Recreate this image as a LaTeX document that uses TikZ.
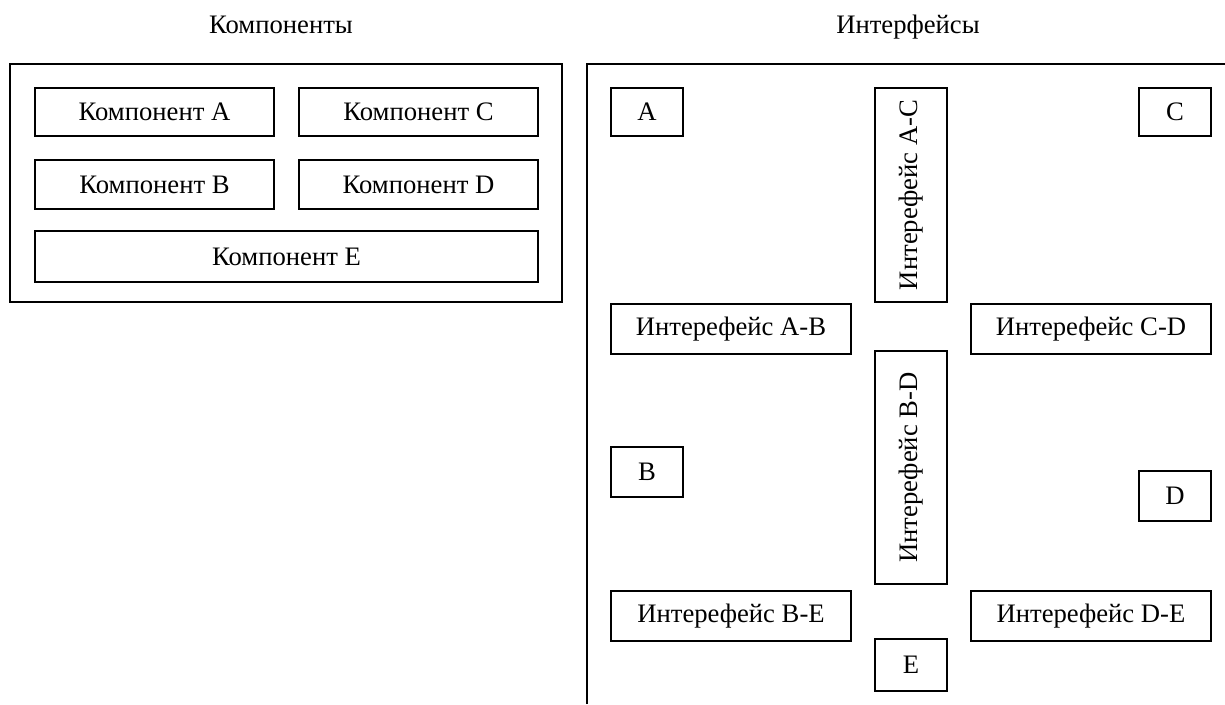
\documentclass[tikz,border=0pt]{standalone}
\usepackage{fontspec}
\setmainfont{Liberation Serif}
\begin{document}
\begin{tikzpicture}[x=0.75pt, y=-0.75pt,
  frame/.style={draw, line width=1.1pt},
  box/.style={draw, line width=1.1pt, rectangle, inner sep=0pt, outer sep=0pt,
    font=\fontsize{20}{24}\selectfont},
  sz/.style 2 args={minimum width=#1*0.75pt, minimum height=#2*0.75pt},
  title/.style={anchor=base, font=\fontsize{20}{24}\selectfont}]
\useasboundingbox (0,0) rectangle (1225,704);

% column titles
\node[title] (tcomp) at (281,33) {Компоненты};
\node[title] (tintf) at (908,33) {Интерфейсы};

% components panel
\node[frame, rectangle, inner sep=0pt, sz={552}{238}] (cframe) at (286,183) {};
\node[box, sz={239}{48}] (compA) at (154.5,112) {Компонент A};
\node[box, sz={239}{48}] (compC) at (418.5,112) {Компонент C};
\node[box, sz={239}{49}] (compB) at (154.5,184.5) {Компонент B};
\node[box, sz={239}{49}] (compD) at (418.5,184.5) {Компонент D};
\node[box, sz={503}{51}] (compE) at (286.5,256.5) {Компонент E};

% interfaces panel
\draw[frame] (587,704) -- (587,64) -- (1225,64);
\node[box, sz={72}{48}] (A) at (647,112) {A};
\node[box, sz={72}{48}] (C) at (1175,112) {C};
\node[box, sz={72}{214}] (AC) at (911,195) {\rotatebox{90}{Интерефейс A-C}};
\node[box, sz={240}{50}] (AB) at (731,329) {Интерефейс A-B};
\node[box, sz={240}{50}] (CD) at (1091,329) {Интерефейс C-D};
\node[box, sz={72}{233}] (BD) at (911,467.5) {\rotatebox{90}{Интерефейс B-D}};
\node[box, sz={72}{50}] (B) at (647,472) {B};
\node[box, sz={72}{50}] (D) at (1175,496) {D};
\node[box, sz={240}{50}] (BE) at (731,616) {Интерефейс B-E};
\node[box, sz={240}{50}] (DE) at (1091,616) {Интерефейс D-E};
\node[box, sz={72}{52}] (E) at (911,665) {E};
\end{tikzpicture}
\end{document}
